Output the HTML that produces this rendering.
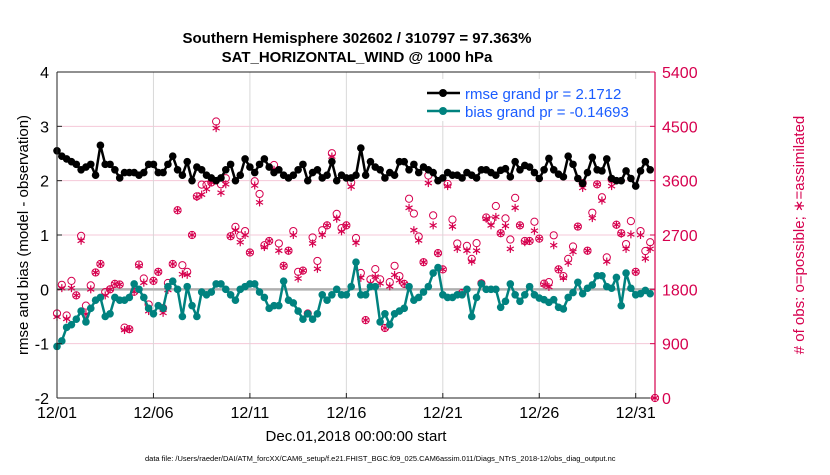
<!DOCTYPE html>
<html><head><meta charset="utf-8">
<style>
body{margin:0;background:#fff;}
svg text{font-family:"Liberation Sans",sans-serif;}
</style></head>
<body>
<svg id="chart" width="830" height="470" viewBox="0 0 830 470" xmlns="http://www.w3.org/2000/svg">
<rect width="830" height="470" fill="#fff"/>
<text x="357" y="43" font-size="15" font-weight="bold" text-anchor="middle">Southern Hemisphere 302602 / 310797 = 97.363%</text>
<text x="357" y="62" font-size="15" font-weight="bold" text-anchor="middle">SAT_HORIZONTAL_WIND @ 1000 hPa</text>
<g id="grid"></g>
<g id="marks"></g>
<g id="axes"></g>
<text transform="translate(28,235) rotate(-90)" font-size="15" text-anchor="middle">rmse and bias (model - observation)</text>
<text transform="translate(804,235) rotate(-90)" font-size="15" text-anchor="middle" fill="#d6004e"># of obs: o=possible; ∗=assimilated</text>
<text x="356" y="441" font-size="15" text-anchor="middle">Dec.01,2018 00:00:00 start</text>
<text x="145" y="461" font-size="7.5">data file: /Users/raeder/DAI/ATM_forcXX/CAM6_setup/f.e21.FHIST_BGC.f09_025.CAM6assim.011/Diags_NTrS_2018-12/obs_diag_output.nc</text>
<g>
<rect x="419" y="79" width="221" height="42" fill="#fff"/>
<line x1="427" y1="93" x2="460" y2="93" stroke="#000" stroke-width="2.5"/>
<circle cx="443" cy="93" r="4" fill="#000"/>
<text x="465" y="99" font-size="15" fill="#1a5cff">rmse grand pr = 2.1712</text>
<line x1="427" y1="111" x2="460" y2="111" stroke="#00827f" stroke-width="2.5"/>
<circle cx="443" cy="111" r="4" fill="#00827f"/>
<text x="465" y="117" font-size="15" fill="#1a5cff">bias grand pr = -0.14693</text>
</g>
</svg>
<script>
const rmse=[2.55,2.45,2.4,2.35,2.3,2.2,2.25,2.3,2.1,2.65,2.3,2.3,2.2,2.05,2.15,2.15,2.15,2.1,2.15,2.3,
2.3,2.15,2.15,2.3,2.45,2.2,2.1,2.35,2.0,2.25,2.2,2.1,2.05,2.0,2.05,2.2,2.3,2.0,2.1,2.4,
2.25,2.15,2.3,2.4,2.25,2.15,2.2,2.1,2.05,2.1,2.2,2.3,2.0,2.15,2.2,2.05,2.1,2.35,2.0,2.1,
2.05,2.05,2.1,2.6,2.1,2.35,2.25,2.2,2.05,2.15,2.1,2.35,2.35,2.2,2.3,2.15,2.25,2.2,2.15,2.0,
2.05,2.15,2.1,2.1,2.05,2.15,2.1,2.05,2.2,2.2,2.15,2.1,
2.19,2.22,2.07,2.35,2.2,2.28,2.25,2.15,2.04,2.2,2.41,2.2,2.12,2.07,2.45,2.3,2.04,1.95,2.15,2.43,2.2,2.18,2.4,2.04,2.0,2.0,2.18,2.04,1.9,2.18,2.35,2.2];
const bias=[-1.05,-0.95,-0.7,-0.65,-0.55,-0.4,-0.6,-0.35,-0.2,-0.15,-0.5,-0.45,-0.15,-0.2,-0.2,-0.15,0.1,0.0,-0.15,-0.35,
-0.45,-0.3,-0.35,0.05,0.15,0.0,-0.5,0.05,-0.3,-0.5,-0.05,-0.1,-0.05,0.1,0.1,0.0,-0.1,-0.2,0.0,0.05,
0.1,0.1,-0.05,-0.15,-0.35,-0.3,-0.3,0.15,-0.2,-0.25,-0.4,-0.55,-0.45,-0.55,-0.45,-0.1,-0.2,-0.1,0.0,-0.1,
-0.1,0.05,0.5,-0.1,-0.1,0.05,0.05,-0.6,-0.45,-0.65,-0.45,-0.4,-0.35,0.05,-0.2,-0.15,-0.05,0.05,0.3,0.4,
-0.1,-0.15,-0.15,-0.1,-0.1,0.0,-0.5,-0.15,0.1,0.0,0.0,0.0,
-0.33,-0.22,0.1,-0.1,-0.22,-0.1,0.05,-0.1,-0.16,-0.19,-0.24,-0.19,-0.33,-0.36,-0.15,-0.06,0.13,-0.08,0.02,0.08,0.25,0.25,0.05,0.02,0.22,-0.3,0.3,0.02,-0.1,-0.08,-0.02,-0.08];
const assimilated=[1346,1820,1312,1820,1700,2605,1390,1800,2080,2220,1700,1800,1890,1880,1126,1140,1760,2190,1910,1440,
1940,2090,1410,1790,2220,3110,2050,2040,2700,3330,3370,3460,3570,4470,3400,3540,2680,2780,2580,2700,
2410,3520,3240,2500,2600,3780,2440,2190,2440,2700,1980,2110,1400,2560,2140,2700,2860,4000,2970,2760,
2860,3500,2570,1990,1290,1900,2010,1900,1160,1850,2040,1950,1890,3150,2780,2610,2250,3560,2860,2400,
2130,3510,2840,2470,1740,2440,2260,2440,1900,2970,2860,3000,2730,2850,2470,3150,2860,2580,2600,2770,
2640,1880,1840,2530,2130,1990,2240,2420,2840,3480,2440,2980,3540,3270,2260,3510,2870,2720,2470,2710,
2090,2700,2310,2470,0];
const possibleExtra=[55,55,55,120,0,80,140,65,0,0,55,0,0,0,40,0,0,20,70,110,
0,0,80,115,0,0,150,50,0,10,165,70,0,110,140,100,0,55,110,65,
0,70,140,30,0,80,120,0,0,65,110,0,0,100,130,80,0,55,80,55,
0,70,80,80,0,65,125,65,0,70,150,70,0,150,275,65,0,125,165,0,
0,35,115,90,0,80,45,125,0,20,80,180,0,125,155,165,0,20,0,150,
0,15,80,165,0,30,65,90,0,80,0,90,0,55,70,110,0,10,80,220,
0,65,125,110,0];
const possible=assimilated.map((v,i)=>v+possibleExtra[i]);
const yTicksL=[4,3,2,1,0,-1,-2];
const yTicksR=[5400,4500,3600,2700,1800,900,0];
const xTickDays=[0,5,10,15,20,25,30];
const xTickLabels=['12/01','12/06','12/11','12/16','12/21','12/26','12/31'];

const NS='http://www.w3.org/2000/svg';
const X0=57,X1=655,Y0=72,Y1=398;
const pxPerDay=(X1-X0)/31;
const xOfIndex=i=>X0+i*pxPerDay/4;
const xOfDay=d=>X0+d*pxPerDay;
const yL=v=>Y1-(v+2)/6*(Y1-Y0);
const yR=v=>Y1-v/5400*(Y1-Y0);
function mk(tag,attrs,parent){const e=document.createElementNS(NS,tag);for(const k in attrs)e.setAttribute(k,attrs[k]);parent.appendChild(e);return e;}
const grid=document.getElementById('grid'),marks=document.getElementById('marks'),axes=document.getElementById('axes');
mk('rect',{x:X0,y:Y0,width:X1-X0,height:Y1-Y0,fill:'#fff'},grid);
yTicksL.forEach(v=>{const l=mk('line',{x1:X0,x2:X1,y1:yL(v),y2:yL(v),stroke:'#f5c8d8','stroke-width':1},grid);

});
xTickDays.forEach(d=>{const l=mk('line',{x1:xOfDay(d),x2:xOfDay(d),y1:Y0,y2:Y1,stroke:'#d8d8d8','stroke-width':1},grid);

});
const zl=mk('line',{x1:X0,x2:X1,y1:yL(0),y2:yL(0),stroke:'#b0b0b0','stroke-width':2.5},grid);


possible.forEach((v,i)=>{const c=mk('circle',{cx:xOfIndex(i),cy:yR(v),r:3.6,fill:'none',stroke:'#d6004e','stroke-width':1},marks);

});
assimilated.forEach((v,i)=>{const x=xOfIndex(i),y=yR(v);const g=mk('g',{stroke:'#d6004e','stroke-width':1.2},marks);


mk('line',{x1:x,x2:x,y1:y-4,y2:y+4},g);mk('line',{x1:x-3.5,x2:x+3.5,y1:y-2,y2:y+2},g);mk('line',{x1:x-3.5,x2:x+3.5,y1:y+2,y2:y-2},g);});
function series(arr,color,name){
const p=mk('polyline',{points:arr.map((v,i)=>xOfIndex(i)+','+yL(v)).join(' '),fill:'none',stroke:color,'stroke-width':2.5,'stroke-linejoin':'round'},marks);


arr.forEach((v,i)=>{const c=mk('circle',{cx:xOfIndex(i),cy:yL(v),r:3.8,fill:color},marks);

});}
series(bias,'#00827f','bias');
series(rmse,'#000','rmse');
mk('line',{x1:X0,x2:X0,y1:Y0,y2:Y1,stroke:'#222','stroke-width':1},axes);
mk('line',{x1:X0,x2:X1,y1:Y1,y2:Y1,stroke:'#222','stroke-width':1},axes);
mk('line',{x1:X0,x2:X1,y1:Y0,y2:Y0,stroke:'#222','stroke-width':1},axes);
mk('line',{x1:X1,x2:X1,y1:Y0,y2:Y1,stroke:'#d6004e','stroke-width':1.2},axes);
yTicksL.forEach(v=>{mk('line',{x1:X0,x2:X0+5,y1:yL(v),y2:yL(v),stroke:'#222'},axes);
const t=mk('text',{x:X0-8,y:yL(v)+6,'font-size':16,'text-anchor':'end'},axes);t.textContent=v;

});
yTicksR.forEach(v=>{mk('line',{x1:X1-5,x2:X1,y1:yR(v),y2:yR(v),stroke:'#d6004e'},axes);
const t=mk('text',{x:X1+7,y:yR(v)+6,'font-size':16,fill:'#d6004e'},axes);t.textContent=v;

});
xTickDays.forEach((d,k)=>{mk('line',{x1:xOfDay(d),x2:xOfDay(d),y1:Y1,y2:Y1-5,stroke:'#222'},axes);
const t=mk('text',{x:xOfDay(d),y:Y1+20,'font-size':16,'text-anchor':'middle'},axes);t.textContent=xTickLabels[k];

});
</script>
</body></html>
